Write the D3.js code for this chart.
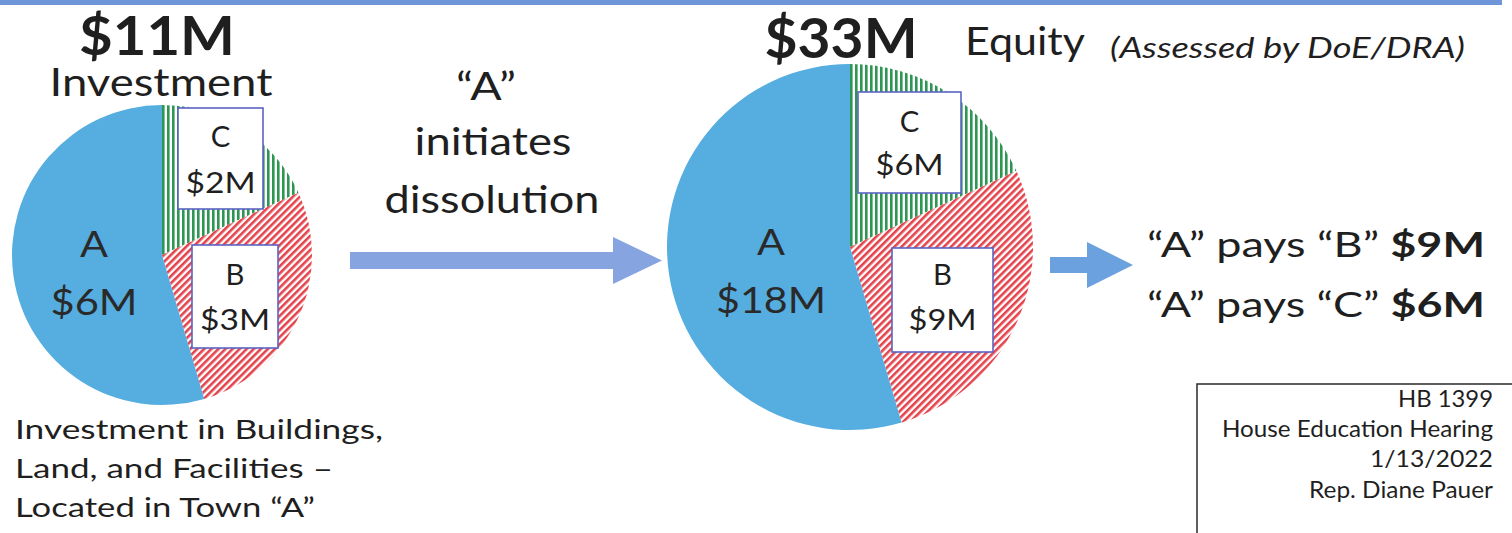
<!DOCTYPE html>
<html><head><meta charset="utf-8">
<script src="https://cdn.jsdelivr.net/npm/d3@7"></script>
<style>
html,body{margin:0;padding:0;background:#fff;}
svg{display:block;}
text{font-family:Lato, "Open Sans", sans-serif;fill:#1f1f1f;}
</style></head>
<body>
<svg id="c" width="1512" height="533"></svg>
<script>
// ---- data ----
const slices = ["C", "B", "A"];            // clockwise from 12 o'clock
const investment = [2, 3, 6];              // $M
const equity = [6, 9, 18];                 // $M
const totalInvestment = "$11M";
const totalEquity = "$33M";
const payments = [["B", "$9M"], ["C", "$6M"]];
const fillsKey = {A: "blue", B: "red", C: "green"};

const svg = d3.select("#c");
const defs = svg.append("defs");
const CAP = 0.717; // Lato cap-height / em

// patterns
const pr = defs.append("pattern").attr("id", "redHatch").attr("patternUnits", "userSpaceOnUse")
  .attr("width", 5).attr("height", 5).attr("patternTransform", "rotate(45)");
pr.append("rect").attr("width", 5).attr("height", 5).attr("fill", "#fff");
pr.append("rect").attr("x", 0).attr("width", 2.6).attr("height", 5).attr("fill", "#e4434c");
const pg = defs.append("pattern").attr("id", "greenHatch").attr("patternUnits", "userSpaceOnUse")
  .attr("width", 5).attr("height", 5);
pg.append("rect").attr("width", 5).attr("height", 5).attr("fill", "#fff");
pg.append("rect").attr("x", 0).attr("width", 2.6).attr("height", 5).attr("fill", "#2e9653");

const fillOf = {blue: "#56ade0", red: "url(#redHatch)", green: "url(#greenHatch)"};

// top rule
svg.append("rect").attr("x", 0).attr("y", 0).attr("width", 1502).attr("height", 5).attr("fill", "#6f95d9");

// cap: cap height in px; width: exact width in px (stretch glyphs)
function txt(x, y, str, cap, anchor, opts) {
  opts = opts || {};
  const t = svg.append("text").attr("x", x).attr("y", y).attr("font-size", (cap / CAP).toFixed(2))
    .attr("text-anchor", anchor || "start").text(str);
  if (opts.weight) t.attr("font-weight", opts.weight);
  if (opts.italic) t.attr("font-style", "italic");
  if (opts.fill) t.style("fill", opts.fill);
  if (opts.width) t.attr("textLength", opts.width).attr("lengthAdjust", "spacingAndGlyphs");
  return t;
}

const pie = d3.pie().sort(null).value(d => d.v);

function drawPie(cx, cy, r, values, boxes, bigLabel) {
  const data = slices.map((k, i) => ({k, v: values[i]}));
  const arcs = pie(data);
  const arc = d3.arc().innerRadius(0).outerRadius(r);
  const g = svg.append("g").attr("transform", `translate(${cx},${cy})`);
  g.selectAll("path").data(arcs).join("path")
    .attr("d", arc)
    .attr("fill", d => fillOf[fillsKey[d.data.k]]);
  const a = data.find(d => d.k === "A");
  txt(bigLabel.x, bigLabel.y1, "A", 26, "middle", {fill: "#2a2a2a", width: bigLabel.wa});
  txt(bigLabel.x, bigLabel.y2, "$" + a.v + "M", 26, "middle", {fill: "#2a2a2a", width: bigLabel.w});
  boxes.forEach(b => {
    const d = data.find(e => e.k === b.k);
    svg.append("rect").attr("x", b.x0).attr("y", b.y0).attr("width", b.x1 - b.x0).attr("height", b.y1 - b.y0)
      .attr("fill", "#fff").attr("stroke", "#5b63c4").attr("stroke-width", 1.6);
    const cxb = (b.x0 + b.x1) / 2;
    txt(cxb, b.t1, d.k, 21, "middle");
    txt(cxb, b.t2, "$" + d.v + "M", 21, "middle", {width: b.w});
  });
}

drawPie(162, 255, 150, investment,
  [{k: "C", x0: 178, y0: 108, x1: 263, y1: 209, t1: 147, t2: 193, w: 70},
   {k: "B", x0: 192, y0: 245, x1: 278, y1: 348, t1: 285, t2: 330, w: 70}],
  {x: 94, y1: 257, y2: 315, w: 87, wa: 28});

drawPie(850, 247, 183, equity,
  [{k: "C", x0: 858, y0: 92, x1: 961, y1: 193, t1: 132, t2: 175, w: 68},
   {k: "B", x0: 892, y0: 248, x1: 993, y1: 352, t1: 285, t2: 330, w: 68}],
  {x: 771, y1: 255, y2: 313, w: 110, wa: 28});

// titles
txt(157, 55, totalInvestment, 38, "middle", {weight: 700, width: 156});
txt(161, 96, "Investment", 27, "middle", {width: 223});
txt(841, 58, totalEquity, 40, "middle", {weight: 700, width: 153});
txt(965, 55, "Equity", 27, "start", {width: 120});
txt(1110, 58, "(Assessed by DoE/DRA)", 21, "start", {italic: true, width: 355});

// middle text
txt(486, 100, "\u201CA\u201D", 28, "middle", {width: 60});
txt(493, 155, "initiates", 28, "middle", {width: 157});
txt(492, 213, "dissolution", 28, "middle", {width: 215});

// arrows
function arrow(x0, x1, hx, yc, sh, hh, color) {
  const p = d3.path();
  p.moveTo(x0, yc - sh / 2); p.lineTo(hx, yc - sh / 2); p.lineTo(hx, yc - hh / 2);
  p.lineTo(x1, yc); p.lineTo(hx, yc + hh / 2); p.lineTo(hx, yc + sh / 2); p.lineTo(x0, yc + sh / 2); p.closePath();
  svg.append("path").attr("d", p.toString()).attr("fill", color);
}
arrow(350, 662, 613, 260.5, 17, 47, "#86a4e0");
arrow(1050, 1133, 1087, 265, 16, 46, "#6aa1de");

// payments
payments.forEach((p, i) => {
  const t = svg.append("text").attr("x", 1147).attr("y", 257 + i * 60).attr("font-size", (25 / CAP).toFixed(2))
    .attr("textLength", 338).attr("lengthAdjust", "spacingAndGlyphs");
  t.append("tspan").text("\u201CA\u201D pays \u201C" + p[0] + "\u201D ");
  t.append("tspan").attr("font-weight", 700).text(p[1]);
});

// bottom-left note
const noteLines = ["Investment in Buildings,", "Land, and Facilities \u2013", "Located in Town \u201CA\u201D"];
const noteW = [368, 318, 300];
noteLines.forEach((s, i) => txt(15, 439 + i * 39, s, 19, "start", {width: noteW[i]}));

// bottom-right box
svg.append("rect").attr("x", 1197).attr("y", 384).attr("width", 340).attr("height", 200)
  .attr("fill", "#fff").attr("stroke", "#2a2a2a").attr("stroke-width", 1.5);
const boxLines = ["HB 1399", "House Education Hearing", "1/13/2022", "Rep. Diane Pauer"];
const boxY = [407, 437, 467, 498];
const boxW = [95, 271, 123, 184];
boxLines.forEach((s, i) => txt(1493, boxY[i], s, 16, "end", {width: boxW[i]}));
</script>
</body></html>
